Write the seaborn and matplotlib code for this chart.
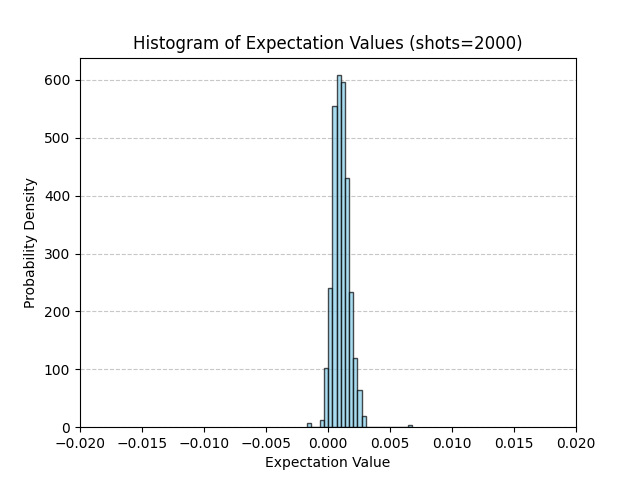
import matplotlib
matplotlib.use("Agg")
from matplotlib import pyplot as plt
import numpy as np
import pandas as pd
import seaborn as sns

# histogram: 25 bins between min and max expectation value
x_min = -0.00167
x_max = 0.00675
density = [8, 0, 0, 12, 102, 240, 554, 608, 596, 430, 233, 119, 65, 20,
           0, 0, 0, 0, 0, 0, 0, 0, 0, 0, 3]

edges = np.linspace(x_min, x_max, len(density) + 1)
centers = (edges[:-1] + edges[1:]) / 2
df = pd.DataFrame({"value": centers, "density": density})

fig, ax = plt.subplots(figsize=(6.4, 4.8), dpi=100)
sns.histplot(data=df, x="value", weights="density", bins=list(edges), stat="count",
             color="skyblue", edgecolor=(0, 0, 0, 0.7), alpha=0.7, linewidth=1, ax=ax)
ax.set_xlim(-0.02, 0.02)
ax.set_title("Histogram of Expectation Values (shots=2000)")
ax.set_xlabel("Expectation Value")
ax.set_ylabel("Probability Density")
ax.grid(axis="y", linestyle="--", alpha=0.7)
ax.set_axisbelow(True)

plt.savefig("out.png", dpi=100)
